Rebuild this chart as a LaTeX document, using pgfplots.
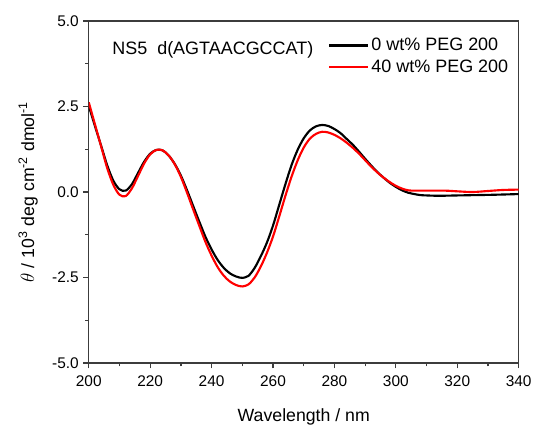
\documentclass[border=0pt]{standalone}
\usepackage{fontspec}
\setmainfont{Liberation Sans}
\usepackage{pgfplots}
\pgfplotsset{compat=1.18}
\definecolor{axgray}{RGB}{60,60,60}
\begin{document}
\begin{tikzpicture}
\begin{axis}[
  scale only axis,
  width=323.25pt, height=257.25pt,
  xmin=200, xmax=340, ymin=-5, ymax=5,
  xtick={200,220,...,340},
  ytick={-5,-2.5,0,2.5,5},
  minor x tick num=1, minor y tick num=1,
  axis line style={axgray, line width=1pt},
  every tick/.style={axgray, line width=0.9pt},
  tick align=outside,
  xtick pos=bottom, ytick pos=left,
  major tick length=4pt, minor tick length=2.5pt,
  /pgf/number format/assume math mode=true,
  yticklabel style={/pgf/number format/.cd, fixed, fixed zerofill, precision=1},
  xticklabel style={/pgf/number format/1000 sep={}, yshift=-2pt},
  tick label style={font=\fontsize{11.6}{13}\selectfont},
  label style={font=\fontsize{13.3}{15}\selectfont},
  xlabel={Wavelength / nm},
  ylabel={$\theta$ / 10\textsuperscript{3} deg cm\textsuperscript{-2} dmol\textsuperscript{-1}},
  xlabel style={yshift=-10pt},
  ylabel style={yshift=4pt},
  legend style={draw=none, fill=none, at={(rel axis cs:0.553,0.962)}, anchor=north west,
    font=\fontsize{13.5}{15}\selectfont, row sep=1.5pt, inner sep=1pt},
  legend cell align=left,
  legend image code/.code={\draw[#1] (0pt,0pt) -- (29pt,0pt);},
]
\addplot[black, line width=1.6pt, smooth] coordinates {
(200,2.52) (202,1.93) (204,1.36) (206,0.78) (208,0.33) (210,0.08) (212,0.04)
(214,0.22) (216,0.55) (218,0.88) (220,1.12) (222,1.23) (224,1.22) (226,1.07)
(228,0.82) (230,0.48) (232,0.05) (234,-0.41) (236,-0.87) (238,-1.31) (240,-1.68)
(242,-1.99) (244,-2.22) (246,-2.38) (248,-2.47) (250,-2.51) (252,-2.45) (254,-2.22)
(256,-1.88) (258,-1.48) (260,-0.98) (262,-0.38) (264,0.22) (266,0.78) (268,1.23)
(270,1.57) (272,1.8) (274,1.92) (276,1.96) (278,1.93) (280,1.84) (282,1.72)
(284,1.55) (286,1.38) (288,1.18) (290,0.97) (292,0.77) (294,0.58) (296,0.42)
(298,0.27) (300,0.15) (302,0.05) (304,-0.02) (306,-0.06) (308,-0.09) (310,-0.1)
(314,-0.11) (320,-0.1) (326,-0.09) (332,-0.08) (340,-0.06)
};
\addlegendentry{0 wt\% PEG 200}
\addplot[red, line width=1.6pt, smooth] coordinates {
(200,2.62) (202,1.98) (204,1.34) (206,0.7) (208,0.21) (210,-0.08) (212,-0.12)
(214,0.1) (216,0.46) (218,0.83) (220,1.1) (222,1.23) (224,1.22) (226,1.07)
(228,0.81) (230,0.44) (232,-0.02) (234,-0.51) (236,-0.99) (238,-1.46) (240,-1.86)
(242,-2.2) (244,-2.45) (246,-2.62) (248,-2.72) (250,-2.76) (252,-2.7) (254,-2.5)
(256,-2.18) (258,-1.78) (260,-1.3) (262,-0.72) (264,-0.12) (266,0.44) (268,0.92)
(270,1.3) (272,1.56) (274,1.7) (276,1.76) (278,1.74) (280,1.67) (282,1.57)
(284,1.44) (286,1.29) (288,1.12) (290,0.93) (292,0.74) (294,0.57) (296,0.42)
(298,0.29) (300,0.18) (302,0.1) (304,0.05) (306,0.04) (310,0.04) (316,0.04)
(320,0.02) (325,0.0) (330,0.03) (335,0.06) (340,0.07)
};
\addlegendentry{40 wt\% PEG 200}
\node[anchor=west, font=\fontsize{13.5}{15}\selectfont] at (rel axis cs:0.044,0.915) {NS5\ \ d(AGTAACGCCAT)};
\end{axis}
\path (-66.75pt,-48pt) rectangle (335.25pt,273pt);
\end{tikzpicture}
\end{document}
